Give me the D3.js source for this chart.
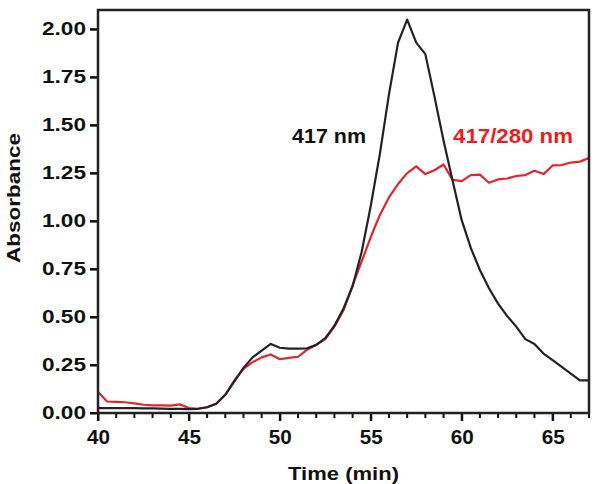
<!DOCTYPE html>
<html>
<head>
<meta charset="utf-8">
<script src="https://cdn.jsdelivr.net/npm/d3@7"></script>
<style>
  body { margin: 0; background: #fff; }
  svg { display: block; }
</style>
</head>
<body>
<svg id="chart" width="596" height="484"></svg>
<script>
// elution time (min), one reading every 0.5 min
const time = [
  40, 40.5, 41, 41.5, 42, 42.5, 43, 43.5, 44, 44.5,
  45, 45.5, 46, 46.5, 47, 47.5, 48, 48.5, 49, 49.5,
  50, 50.5, 51, 51.5, 52, 52.5, 53, 53.5, 54, 54.5,
  55, 55.5, 56, 56.5, 57, 57.5, 58, 58.5, 59, 59.5,
  60, 60.5, 61, 61.5, 62, 62.5, 63, 63.5, 64, 64.5,
  65, 65.5, 66, 66.5, 67
]

// absorbance at 417 nm (black)
const abs417 = [
  0.025, 0.025, 0.025, 0.025, 0.025, 0.024, 0.024, 0.023, 0.022, 0.021,
  0.020, 0.022, 0.030, 0.048, 0.095, 0.165, 0.235, 0.290, 0.325, 0.360,
  0.340, 0.335, 0.335, 0.337, 0.355, 0.390, 0.455, 0.545, 0.660, 0.840,
  1.080, 1.350, 1.660, 1.930, 2.050, 1.930, 1.870, 1.650, 1.420, 1.210,
  1.005, 0.860, 0.745, 0.650, 0.570, 0.505, 0.450, 0.385, 0.360, 0.310,
  0.275, 0.240, 0.205, 0.170, 0.170
]

// 417/280 nm ratio (red)
const ratio = [
  0.110, 0.060, 0.058, 0.056, 0.050, 0.043, 0.040, 0.040, 0.038, 0.045,
  0.026, 0.022, 0.030, 0.048, 0.095, 0.170, 0.230, 0.265, 0.290, 0.305,
  0.280, 0.287, 0.293, 0.330, 0.355, 0.385, 0.450, 0.535, 0.665, 0.790,
  0.917, 1.032, 1.123, 1.193, 1.250, 1.285, 1.245, 1.265, 1.295, 1.215,
  1.208, 1.240, 1.242, 1.200, 1.217, 1.222, 1.235, 1.240, 1.262, 1.245,
  1.290, 1.292, 1.305, 1.310, 1.328
]

const xTicks = [40, 45, 50, 55, 60, 65]
const xMinor = [41, 42, 43, 44, 46, 47, 48, 49, 51, 52, 53, 54, 56, 57, 58, 59, 61, 62, 63, 64, 66, 67]
const yTicks = [0, 0.25, 0.5, 0.75, 1.0, 1.25, 1.5, 1.75, 2.0]

const svg = d3.select('#chart')
const font = '"Liberation Sans", Arial, sans-serif'
const m = { left: 98, right: 589, top: 10, bottom: 413 }

const xScale = d3.scaleLinear().domain([40, 67]).range([m.left, m.right])
const yScale = d3.scaleLinear().domain([0, 2.1]).range([m.bottom, m.top])

// the original lettering is wider than Arial, so every text gets a fixed length.
// anchor is always 'start' so the stretch does not push text past its spot
const wide = (sel, len) => sel
  .attr('text-anchor', 'start')
  .attr('textLength', len)
  .attr('lengthAdjust', 'spacingAndGlyphs')

// clip lines to the frame
svg.append('clipPath').attr('id', 'plotArea')
  .append('rect')
    .attr('x', m.left).attr('y', m.top)
    .attr('width', m.right - m.left).attr('height', m.bottom - m.top)

const line = d3.line()
  .x((d, i) => xScale(time[i]))
  .y(d => yScale(d))

const plot = svg.append('g').attr('clip-path', 'url(#plotArea)')

plot.append('path')
  .datum(ratio)
  .attr('d', line)
  .attr('fill', 'none')
  .attr('stroke', '#e3262e')
  .attr('stroke-width', 2.2)
  .attr('stroke-linejoin', 'round')

plot.append('path')
  .datum(abs417)
  .attr('d', line)
  .attr('fill', 'none')
  .attr('stroke', '#222')
  .attr('stroke-width', 2.2)
  .attr('stroke-linejoin', 'round')

const styleTicks = g => {
  g.select('.domain').remove()
  g.selectAll('.tick line')
    .style('stroke', '#111')
    .style('stroke-width', '2px')
}

// tick marks drawn straight from the scales as well, so they always show
const marks = svg.append('g').attr('stroke', '#111').attr('stroke-width', 2)
marks.selectAll('.xmajor').data(xTicks).join('line')
  .attr('class', 'xmajor')
  .attr('x1', d => xScale(d)).attr('x2', d => xScale(d))
  .attr('y1', m.bottom).attr('y2', m.bottom + 8)
marks.selectAll('.xminor').data(xMinor).join('line')
  .attr('class', 'xminor')
  .attr('x1', d => xScale(d)).attr('x2', d => xScale(d))
  .attr('y1', m.bottom).attr('y2', m.bottom + 5)
marks.selectAll('.ymajor').data(yTicks).join('line')
  .attr('class', 'ymajor')
  .attr('x1', m.left - 8).attr('x2', m.left)
  .attr('y1', d => yScale(d)).attr('y2', d => yScale(d))

// x tick labels
svg.append('g')
  .attr('transform', `translate(0,${m.bottom})`)
  .call(d3.axisBottom(xScale).tickValues(xTicks).tickSize(8).tickFormat(d3.format('d')))
  .call(styleTicks)
  .call(g => g.selectAll('text')
    .attr('x', -11.5).attr('y', 31).attr('dy', 0)
    .style('font', `bold 20px ${font}`)
    .attr('fill', '#111')
    .call(wide, 23))

// y tick labels
svg.append('g')
  .attr('transform', `translate(${m.left},0)`)
  .call(d3.axisLeft(yScale).tickValues(yTicks).tickSize(8).tickFormat(d3.format('.2f')))
  .call(styleTicks)
  .call(g => g.selectAll('text')
    .attr('x', -12 - 44)
    .style('font', `bold 18px ${font}`)
    .attr('fill', '#111')
    .call(wide, 44))

// frame
svg.append('rect')
  .attr('x', m.left).attr('y', m.top)
  .attr('width', m.right - m.left).attr('height', m.bottom - m.top)
  .attr('fill', 'none')
  .attr('stroke', '#222')
  .attr('stroke-width', 2.5)

// axis titles
svg.append('text')
  .attr('x', (m.left + m.right) / 2 - 55.5).attr('y', 480)
  .style('font', `bold 18px ${font}`)
  .attr('fill', '#111')
  .call(wide, 111)
  .text('Time (min)')

svg.append('text')
  .attr('transform', 'translate(20,198)rotate(-90)')
  .attr('x', -65)
  .style('font', `bold 18px ${font}`)
  .attr('fill', '#111')
  .call(wide, 130)
  .text('Absorbance')

// series labels
svg.append('text')
  .attr('x', 292).attr('y', 143)
  .style('font', `bold 20px ${font}`)
  .attr('fill', '#111')
  .call(wide, 74)
  .text('417 nm')

svg.append('text')
  .attr('x', 453).attr('y', 143)
  .style('font', `bold 20px ${font}`)
  .attr('fill', '#ee1c1c')
  .call(wide, 120)
  .text('417/280 nm')
</script>
</body>
</html>
